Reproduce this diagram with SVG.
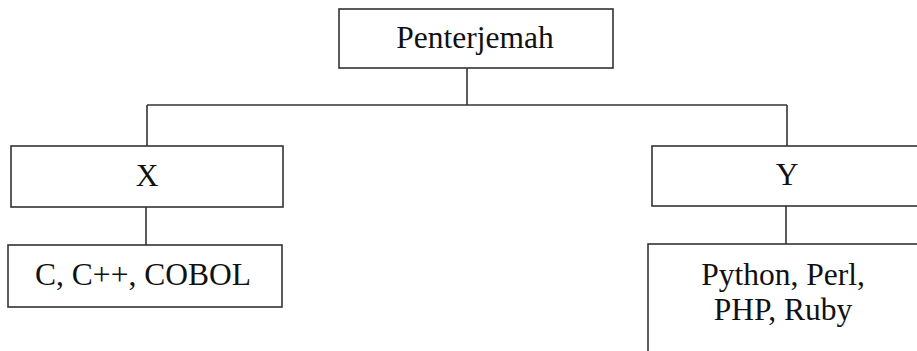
<svg xmlns="http://www.w3.org/2000/svg" width="917" height="351" viewBox="0 0 917 351">
  <style>
    .box { fill: #ffffff; stroke: #333333; stroke-width: 1.6; }
    .link { fill: none; stroke: #333333; stroke-width: 1.6; }
    .label { font-family: "Liberation Serif", "Times New Roman", serif; font-size: 31.5px; fill: #111111; text-anchor: middle; }
  </style>
  <rect width="917" height="351" fill="#ffffff"/>

  <!-- connectors of the tree -->
  <g id="connectors">
    <path class="link" d="M467,68 V105"/>
    <path class="link" d="M147,105 H787"/>
    <path class="link" d="M147,105 V146"/>
    <path class="link" d="M787,105 V146"/>
    <path class="link" d="M146,207 V245"/>
    <path class="link" d="M786,206 V244"/>
  </g>

  <g id="node-penterjemah">
    <rect class="box" x="339" y="9" width="274" height="59"/>
    <text class="label" x="475" y="48">Penterjemah</text>
  </g>

  <g id="node-x">
    <rect class="box" x="11" y="146" width="272" height="61"/>
    <text class="label" x="147" y="186">X</text>
  </g>

  <g id="node-y">
    <rect class="box" x="652" y="146" width="272" height="60"/>
    <text class="label" x="787" y="185">Y</text>
  </g>

  <g id="node-x-langs">
    <rect class="box" x="8" y="245" width="274" height="62"/>
    <text class="label" x="143" y="285">C, C++, COBOL</text>
  </g>

  <g id="node-y-langs">
    <rect class="box" x="648" y="244" width="276" height="120"/>
    <text class="label" x="783" y="285">Python, Perl,</text>
    <text class="label" x="783" y="320">PHP, Ruby</text>
  </g>
</svg>
